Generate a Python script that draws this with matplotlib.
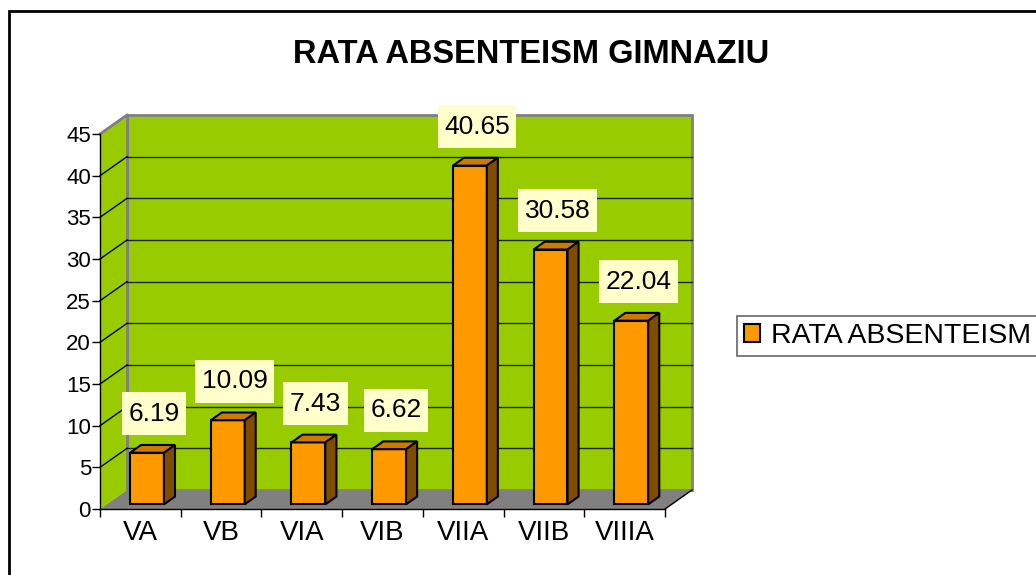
import matplotlib
matplotlib.use('Agg')
import matplotlib.pyplot as plt
from matplotlib.patches import Polygon, Rectangle, Patch

# ---- data ----
categories = ['VA', 'VB', 'VIA', 'VIB', 'VIIA', 'VIIB', 'VIIIA']
values = [6.19, 10.09, 7.43, 6.62, 40.65, 30.58, 22.04]
series_name = 'RATA ABSENTEISM'
title = 'RATA ABSENTEISM GIMNAZIU'
yticks = list(range(0, 46, 5))

plt.rcParams['font.family'] = ['Liberation Sans', 'DejaVu Sans']

W, H = 1036, 575
fig = plt.figure(figsize=(W / 100, H / 100), dpi=100)
fig.patch.set_facecolor('white')

n = len(categories)
ymax = yticks[-1]
ax = fig.add_axes([100 / W, (H - 509) / H, 565 / W, 375 / H])
ax.set_xlim(0, n)
ax.set_ylim(0, ymax)
ax.patch.set_visible(False)

# depth offsets (data units)
DX = 27 / (565 / n)
DY = 19 / (375 / ymax)

GREEN = '#99CC00'
GRAY = '#808080'

# back wall
ax.add_patch(Rectangle((DX, DY), n, ymax, facecolor=GREEN, edgecolor=GRAY,
                       lw=2, clip_on=False, zorder=0.5))
# left side wall
ax.add_patch(Polygon([(0, 0), (DX, DY), (DX, ymax + DY), (0, ymax)], closed=True,
                     facecolor=GREEN, edgecolor='none', clip_on=False, zorder=0.6))
ax.plot([0, DX], [ymax, ymax + DY], color=GRAY, lw=2, clip_on=False, zorder=0.7)
# floor
ax.add_patch(Polygon([(0, 0), (n, 0), (n + DX, DY), (DX, DY)], closed=True,
                     facecolor=GRAY, edgecolor='none', clip_on=False, zorder=0.8))
ax.plot([n, n + DX], [0, DY], color='black', lw=1, clip_on=False, zorder=0.9)
ax.plot([DX, DX], [DY, ymax + DY], color=GRAY, lw=2, clip_on=False, zorder=0.9)

# gridlines
for v in yticks[1:-1]:
    ax.plot([DX, n + DX], [v + DY, v + DY], color='#1a2600', lw=1,
            clip_on=False, zorder=1)
    ax.plot([0, DX], [v, v + DY], color='black', lw=1, clip_on=False, zorder=1)

# bars
f0, fd, bw = 0.245, 0.41, 0.42
FRONT, TOP, SIDE = '#FF9900', '#CC7A00', '#7F4C00'
for i, v in enumerate(values):
    x0 = i + 0.5 - bw / 2 + f0 * DX
    y0 = f0 * DY
    ddx, ddy = fd * DX, fd * DY
    ax.add_patch(Rectangle((x0, y0), bw, v, facecolor=FRONT, edgecolor='black',
                           lw=1.5, clip_on=False, zorder=3, joinstyle='miter'))
    ax.add_patch(Polygon([(x0, y0 + v), (x0 + bw, y0 + v), (x0 + bw + ddx, y0 + v + ddy),
                          (x0 + ddx, y0 + v + ddy)], closed=True, facecolor=TOP,
                         edgecolor='black', lw=1.5, clip_on=False, zorder=3,
                         joinstyle='miter'))
    ax.add_patch(Polygon([(x0 + bw, y0), (x0 + bw + ddx, y0 + ddy),
                          (x0 + bw + ddx, y0 + v + ddy), (x0 + bw, y0 + v)], closed=True,
                         facecolor=SIDE, edgecolor='black', lw=1.5, clip_on=False,
                         zorder=3, joinstyle='miter'))
    # data label
    cx = i + 0.5 + (f0 + fd / 2) * DX + 0.02
    cy = v + (f0 + fd / 2) * DY + 4.2
    ax.text(cx, cy, f'{v:.2f}', ha='center', va='center', fontsize=19,
            color='black', zorder=5, clip_on=False,
            bbox=dict(boxstyle='square,pad=0.25', mutation_aspect=1.45,
                      facecolor='#FFFFCC', edgecolor='none'))

# axes
for s in ['top', 'right']:
    ax.spines[s].set_visible(False)
for s in ['left', 'bottom']:
    ax.spines[s].set_color('black')
    ax.spines[s].set_linewidth(1)
    ax.spines[s].set_zorder(4)
ax.set_yticks(yticks)
ax.set_yticklabels([str(t) for t in yticks])
ax.tick_params(axis='y', direction='out', length=5.5, width=1, pad=1,
               labelsize=16, colors='black')
ax.set_xticks(range(n + 1))
ax.set_xticklabels([''] * (n + 1))
ax.set_xticks([i + 0.5 for i in range(n)], minor=True)
ax.set_xticklabels(categories, minor=True)
ax.tick_params(axis='x', which='major', direction='out', length=6, width=1)
ax.tick_params(axis='x', which='minor', length=0, pad=8, labelsize=20)

# title
fig.text(531 / W, 1 - 63 / H, title, ha='center', va='baseline',
         fontsize=23.5, fontweight='bold')

# legend
leg = fig.legend(handles=[Patch(facecolor=FRONT, edgecolor='black', lw=1.5)],
                 labels=[series_name], loc='center left',
                 bbox_to_anchor=(737 / W, 1 - 336 / H), fontsize=20.5,
                 frameon=True, fancybox=False, edgecolor='#666666', framealpha=1,
                 handlelength=0.55, handleheight=0.55, handletextpad=0.4,
                 borderpad=0.25, borderaxespad=0)
leg.get_frame().set_linewidth(1.2)

# outer chart border (clipped on right/bottom as in reference)
fig.patches.append(Rectangle((9 / W, -0.05), 1.2, 1 - 11 / H + 0.05,
                             transform=fig.transFigure, facecolor='none',
                             edgecolor='black', lw=2))

fig.savefig('out.png', dpi=100)
